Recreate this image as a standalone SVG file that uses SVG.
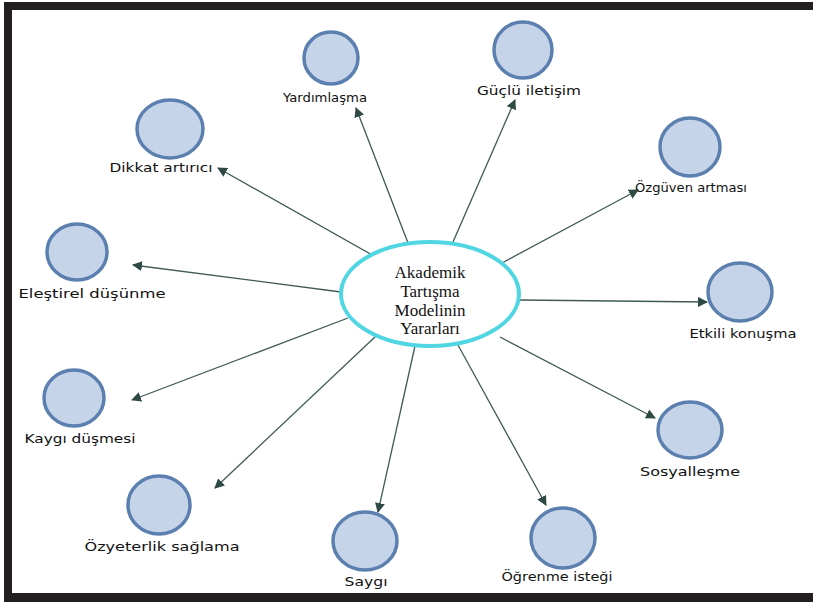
<svg xmlns="http://www.w3.org/2000/svg" width="813" height="603" viewBox="0 0 813 603">
<defs>
<style>
.node{fill:#c6d4e9;stroke:#5b80b0;stroke-width:3.5}
.lbl{font-family:"DejaVu Sans",Verdana,sans-serif;font-size:12px;fill:#111;text-anchor:middle}
.conn{stroke:#3f5a55;stroke-width:1.3;fill:none;marker-end:url(#ah)}
.ctr{font-family:"Liberation Serif","Times New Roman",serif;font-size:17px;fill:#111;text-anchor:middle}
</style>
<marker id="ah" viewBox="0 0 10 10" refX="9" refY="5" markerWidth="10" markerHeight="10" markerUnits="userSpaceOnUse" orient="auto">
<path d="M0,0 L10,5 L0,10 z" fill="#2f4a45"/>
</marker>
</defs>
<rect width="813" height="603" fill="#ffffff"/>
<g id="frame" fill="#231f20">
<rect x="4" y="2" width="809" height="8"/>
<rect x="4" y="2" width="8" height="600"/>
<rect x="4" y="593" width="809" height="9"/>
</g>
<g id="connectors">
<line class="conn" x1="408" y1="243" x2="356" y2="108"/>
<line class="conn" x1="453" y1="242" x2="515" y2="100"/>
<line class="conn" x1="374" y1="256" x2="218" y2="168"/>
<line class="conn" x1="500" y1="264" x2="638" y2="190"/>
<line class="conn" x1="341" y1="292" x2="133" y2="265"/>
<line class="conn" x1="520" y1="300" x2="707" y2="302"/>
<line class="conn" x1="348" y1="318" x2="132" y2="400"/>
<line class="conn" x1="500" y1="337" x2="655" y2="418"/>
<line class="conn" x1="376" y1="336" x2="215" y2="488"/>
<line class="conn" x1="415" y1="346" x2="378" y2="512"/>
<line class="conn" x1="458" y1="345" x2="546" y2="505"/>
</g>
<g id="center">
<ellipse cx="430" cy="294" rx="89" ry="52" fill="#ffffff" stroke="#4fd6e2" stroke-width="4"/>
<text class="ctr" x="430" y="278">Akademik</text>
<text class="ctr" x="430" y="297">Tartışma</text>
<text class="ctr" x="430" y="316">Modelinin</text>
<text class="ctr" x="430" y="334">Yararları</text>
</g>
<g id="n-yardimlasma"><ellipse class="node" cx="331" cy="58" rx="27" ry="26"/><text class="lbl" x="325" y="102" textLength="84" lengthAdjust="spacingAndGlyphs">Yardımlaşma</text></g>
<g id="n-guclu"><ellipse class="node" cx="523" cy="50" rx="29" ry="28"/><text class="lbl" x="529" y="95" textLength="104" lengthAdjust="spacingAndGlyphs">Güçlü iletişim</text></g>
<g id="n-dikkat"><ellipse class="node" cx="170" cy="129" rx="33" ry="29"/><text class="lbl" x="161" y="172" textLength="103" lengthAdjust="spacingAndGlyphs">Dikkat artırıcı</text></g>
<g id="n-ozguven"><ellipse class="node" cx="690" cy="147" rx="30" ry="29"/><text class="lbl" x="691" y="192" textLength="112" lengthAdjust="spacingAndGlyphs">Özgüven artması</text></g>
<g id="n-elestirel"><ellipse class="node" cx="77" cy="252" rx="30" ry="28"/><text class="lbl" x="92" y="298" textLength="147" lengthAdjust="spacingAndGlyphs">Eleştirel düşünme</text></g>
<g id="n-etkili"><ellipse class="node" cx="740" cy="292" rx="32" ry="29"/><text class="lbl" x="743" y="338" textLength="107" lengthAdjust="spacingAndGlyphs">Etkili konuşma</text></g>
<g id="n-kaygi"><ellipse class="node" cx="74" cy="398" rx="30" ry="28"/><text class="lbl" x="80" y="443" textLength="111" lengthAdjust="spacingAndGlyphs">Kaygı düşmesi</text></g>
<g id="n-sosyal"><ellipse class="node" cx="690" cy="430" rx="32" ry="28"/><text class="lbl" x="690" y="476" textLength="100" lengthAdjust="spacingAndGlyphs">Sosyalleşme</text></g>
<g id="n-ozyeterlik"><ellipse class="node" cx="159" cy="505" rx="31" ry="29"/><text class="lbl" x="162" y="551" textLength="155" lengthAdjust="spacingAndGlyphs">Özyeterlik sağlama</text></g>
<g id="n-saygi"><ellipse class="node" cx="365" cy="541" rx="32" ry="29"/><text class="lbl" x="366" y="586" textLength="43" lengthAdjust="spacingAndGlyphs">Saygı</text></g>
<g id="n-ogrenme"><ellipse class="node" cx="563" cy="538" rx="32" ry="30"/><text class="lbl" x="557" y="581" textLength="111" lengthAdjust="spacingAndGlyphs">Öğrenme isteği</text></g>
</svg>
